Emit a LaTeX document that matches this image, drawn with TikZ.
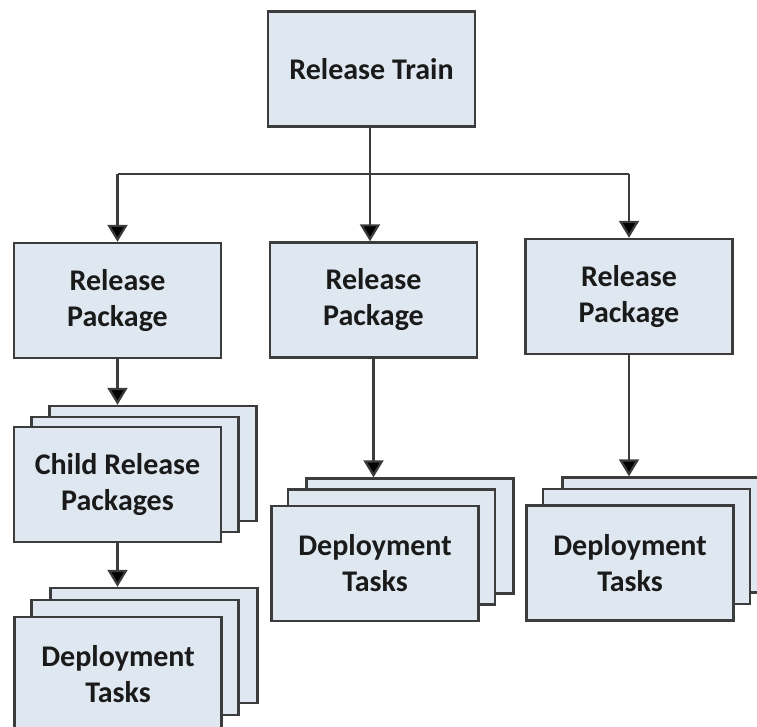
\documentclass[tikz,border=0pt]{standalone}
\usepackage{fontspec}
\setmainfont{Carlito}
\usetikzlibrary{arrows.meta}
\definecolor{boxfill}{HTML}{DFE8F1}
\definecolor{boxline}{HTML}{3C3C3C}
\definecolor{txt}{HTML}{1A1A1A}
\begin{document}
\begin{tikzpicture}[x=1pt,y=-1pt,
  pbox/.style={draw=boxline, fill=boxfill, line width=2.4pt, minimum width=207pt, minimum height=115pt, inner sep=0pt, anchor=center,
    font=\fontsize{30}{36}\selectfont\bfseries, text=txt, align=center},
  conn/.style={draw=boxline, line width=2.2pt, -{Triangle[width=20pt,length=17pt,fill=black]}},
  plain/.style={draw=boxline, line width=2.2pt}]
\useasboundingbox (0,0) rectangle (757,727);
% top
\node[pbox] (train) at (371.5,69) {Release Train};
\node[pbox] (rp1) at (117.5,300.5) {Release\\Package};
\node[pbox] (rp2) at (373.5,300) {Release\\Package};
\node[pbox] (rp3) at (629,296.5) {Release\\Package};
% child stack
\node[pbox] (cback) at (153,463.5) {};
\node[pbox] (cmid) at (135,474.5) {};
\node[pbox] (cfront) at (117.5,484.5) {Child Release\\Packages};
% deploy stack 1
\node[pbox] (d1back) at (154,645.5) {};
\node[pbox] (d1mid) at (135,657.5) {};
\node[pbox] (d1front) at (118,674.5) {Deployment\\Tasks};
% deploy stack 2
\node[pbox] (d2back) at (410,536) {};
\node[pbox] (d2mid) at (391.5,547) {};
\node[pbox] (d2front) at (375,563.5) {Deployment\\Tasks};
% deploy stack 3
\node[pbox] (d3back) at (666,535) {};
\node[pbox] (d3mid) at (646.5,546.5) {};
\node[pbox] (d3front) at (630,563) {Deployment\\Tasks};
% connectors
\coordinate (jm) at (370,174);
\draw[plain] (rp1.north |- jm) -- (rp3.north |- jm);
\draw[conn] (train.south -| jm) -- (rp2.north -| jm);
\draw[conn] (rp1.north |- jm) -- (rp1.north);
\draw[conn] (rp3.north |- jm) -- (rp3.north);
\draw[conn] (rp1.south) -- (rp1.south |- cback.north);
\draw[conn] (cfront.south) -- (cfront.south |- d1back.north);
\draw[conn] (rp2.south) -- (rp2.south |- d2back.north);
\draw[conn] (rp3.south) -- (rp3.south |- d3back.north);
\end{tikzpicture}
\end{document}
